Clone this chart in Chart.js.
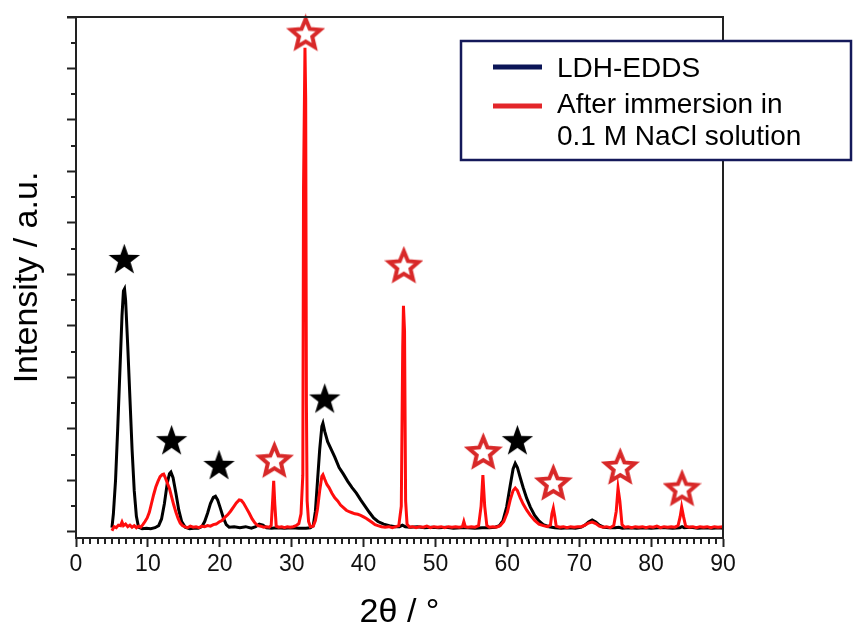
<!DOCTYPE html>
<html>
<head>
<meta charset="utf-8">
<title>XRD LDH-EDDS</title>
<script src="https://cdn.jsdelivr.net/npm/chart.js@4.4.1/dist/chart.umd.min.js"></script>
<style>
    html, body { margin: 0; padding: 0; background: #fff; }
    #wrap { width: 854px; height: 633px; }
</style>
</head>
<body>
<div id="wrap"><canvas id="xrd" width="854" height="633"></canvas></div>
<script>
// 2theta (deg) / intensity (a.u.) pairs
const ldhEdds = [
    [5.0, 0.08], [5.2, 0.35], [5.5, 1.0], [5.8, 2.0], [6.1, 3.1], [6.4, 4.2], [6.6, 4.68], [6.75, 4.72], [6.9, 4.5],
    [7.2, 3.6], [7.5, 2.6], [7.8, 1.6], [8.1, 0.8], [8.4, 0.3], [8.7, 0.09], [9.2, 0.06], [9.8, 0.07], [10.4, 0.06],
    [11.0, 0.08], [11.5, 0.12], [11.9, 0.25], [12.3, 0.55], [12.7, 0.95], [13.0, 1.13], [13.2, 1.16], [13.5, 1.05],
    [13.9, 0.75], [14.3, 0.42], [14.7, 0.2], [15.2, 0.09], [15.8, 0.06], [16.4, 0.07], [17.0, 0.07], [17.5, 0.1],
    [17.9, 0.2], [18.3, 0.36], [18.7, 0.55], [19.1, 0.67], [19.4, 0.69], [19.7, 0.62], [20.1, 0.45], [20.5, 0.27],
    [20.9, 0.14], [21.3, 0.09], [22.0, 0.1], [22.8, 0.08], [23.6, 0.1], [24.4, 0.07], [25.0, 0.1], [25.5, 0.15],
    [26.0, 0.13], [26.5, 0.08], [27.2, 0.07], [28.0, 0.08], [29.0, 0.07], [30.0, 0.08], [31.0, 0.07], [32.0, 0.07],
    [32.6, 0.08], [33.0, 0.12], [33.3, 0.4], [33.6, 1.0], [33.9, 1.6], [34.2, 2.05], [34.35, 2.11], [34.6, 1.95],
    [35.0, 1.75], [35.5, 1.6], [36.0, 1.45], [36.6, 1.25], [37.2, 1.12], [37.8, 0.98], [38.4, 0.86], [39.0, 0.75],
    [39.6, 0.62], [40.2, 0.5], [40.8, 0.38], [41.4, 0.27], [42.0, 0.2], [42.8, 0.15], [43.6, 0.12], [44.4, 0.1],
    [45.0, 0.1], [45.4, 0.13], [45.8, 0.1], [46.5, 0.09], [47.5, 0.1], [48.5, 0.08], [49.5, 0.09], [50.5, 0.08],
    [51.5, 0.09], [52.5, 0.07], [53.5, 0.08], [54.5, 0.08], [55.5, 0.07], [56.5, 0.08], [57.5, 0.08], [58.3, 0.09],
    [58.9, 0.12], [59.4, 0.22], [59.9, 0.48], [60.4, 0.9], [60.8, 1.22], [61.1, 1.33], [61.4, 1.25], [61.8, 1.05],
    [62.2, 0.86], [62.7, 0.65], [63.2, 0.48], [63.8, 0.32], [64.4, 0.21], [65.0, 0.14], [65.8, 0.1], [66.6, 0.08],
    [67.5, 0.07], [68.5, 0.08], [69.5, 0.07], [70.3, 0.09], [70.8, 0.13], [71.3, 0.19], [71.8, 0.23], [72.3, 0.19],
    [72.8, 0.13], [73.4, 0.09], [74.2, 0.08], [75.0, 0.08], [75.5, 0.09], [76.0, 0.07], [77.0, 0.08], [78.0, 0.07],
    [79.0, 0.08], [80.0, 0.07], [81.0, 0.08], [82.0, 0.08], [83.0, 0.07], [84.0, 0.08], [84.3, 0.1], [84.6, 0.08],
    [85.5, 0.09], [86.5, 0.07], [87.5, 0.08], [88.5, 0.07], [89.5, 0.08], [90.0, 0.07]
];

const afterNaCl = [
    [5.0, 0.02], [5.3, 0.1], [5.6, 0.08], [5.9, 0.13], [6.2, 0.12], [6.4, 0.19], [6.6, 0.12], [6.9, 0.15], [7.2, 0.1],
    [7.5, 0.13], [7.8, 0.09], [8.1, 0.12], [8.4, 0.08], [8.7, 0.11], [9.0, 0.09], [9.3, 0.14], [9.6, 0.2], [9.9, 0.27],
    [10.2, 0.38], [10.5, 0.55], [10.8, 0.72], [11.1, 0.87], [11.4, 0.98], [11.7, 1.07], [12.0, 1.11], [12.2, 1.12],
    [12.4, 1.06], [12.7, 0.95], [13.0, 0.84], [13.3, 0.68], [13.6, 0.52], [13.9, 0.38], [14.2, 0.26], [14.5, 0.17],
    [14.8, 0.12], [15.1, 0.1], [15.5, 0.08], [15.9, 0.11], [16.3, 0.09], [16.7, 0.1], [17.1, 0.08], [17.5, 0.11],
    [17.9, 0.1], [18.3, 0.12], [18.7, 0.11], [19.1, 0.14], [19.5, 0.15], [19.9, 0.19], [20.3, 0.22], [20.7, 0.28],
    [21.1, 0.33], [21.5, 0.4], [21.9, 0.48], [22.3, 0.56], [22.7, 0.62], [23.0, 0.61], [23.3, 0.56], [23.7, 0.46],
    [24.1, 0.36], [24.5, 0.25], [24.9, 0.17], [25.3, 0.12], [25.7, 0.11], [26.1, 0.09], [26.5, 0.1], [26.9, 0.09],
    [27.15, 0.12], [27.35, 0.6], [27.5, 0.99], [27.65, 0.55], [27.85, 0.11], [28.2, 0.09], [28.6, 0.1], [29.0, 0.08],
    [29.4, 0.1], [29.8, 0.09], [30.2, 0.1], [30.6, 0.12], [31.0, 0.16], [31.3, 0.35], [31.55, 1.1], [31.65, 6.7],
    [31.85, 9.4], [31.95, 8.4], [32.05, 2.5], [32.15, 0.6], [32.35, 0.2], [32.6, 0.1], [33.0, 0.11], [33.3, 0.22],
    [33.6, 0.45], [33.9, 0.8], [34.2, 1.08], [34.35, 1.11], [34.6, 1.02], [34.9, 0.92], [35.2, 0.86], [35.6, 0.75],
    [36.0, 0.66], [36.4, 0.6], [36.8, 0.52], [37.2, 0.47], [37.6, 0.42], [38.0, 0.39], [38.4, 0.37], [38.8, 0.35],
    [39.2, 0.34], [39.6, 0.32], [40.0, 0.29], [40.4, 0.26], [40.8, 0.22], [41.2, 0.18], [41.6, 0.14], [42.0, 0.12],
    [42.5, 0.1], [43.0, 0.09], [43.5, 0.1], [44.0, 0.08], [44.5, 0.1], [44.9, 0.12], [45.25, 0.5], [45.45, 3.6],
    [45.55, 4.39], [45.7, 3.9], [45.85, 0.6], [46.05, 0.15], [46.4, 0.09], [46.8, 0.1], [47.3, 0.08], [47.8, 0.1],
    [48.3, 0.09], [48.8, 0.11], [49.3, 0.08], [49.8, 0.1], [50.3, 0.09], [50.8, 0.1], [51.3, 0.08], [51.8, 0.1],
    [52.3, 0.09], [52.8, 0.1], [53.3, 0.09], [53.75, 0.1], [53.95, 0.2], [54.15, 0.1], [54.5, 0.09], [55.0, 0.1],
    [55.5, 0.09], [56.0, 0.12], [56.35, 0.5], [56.6, 1.1], [56.85, 0.5], [57.15, 0.12], [57.5, 0.09], [58.0, 0.1],
    [58.5, 0.09], [59.0, 0.12], [59.5, 0.2], [60.0, 0.38], [60.4, 0.62], [60.8, 0.8], [61.1, 0.85], [61.4, 0.8],
    [61.8, 0.66], [62.2, 0.54], [62.7, 0.42], [63.2, 0.32], [63.8, 0.22], [64.4, 0.15], [65.0, 0.12], [65.6, 0.1],
    [66.0, 0.13], [66.2, 0.35], [66.4, 0.46], [66.6, 0.3], [66.8, 0.11], [67.3, 0.09], [67.8, 0.1], [68.3, 0.08],
    [68.8, 0.1], [69.3, 0.09], [69.8, 0.1], [70.3, 0.1], [70.8, 0.13], [71.3, 0.17], [71.8, 0.19], [72.3, 0.16],
    [72.8, 0.11], [73.3, 0.09], [73.8, 0.1], [74.3, 0.08], [74.8, 0.12], [75.15, 0.4], [75.4, 0.85], [75.65, 0.6],
    [75.95, 0.14], [76.3, 0.09], [76.8, 0.1], [77.3, 0.08], [77.8, 0.1], [78.3, 0.09], [78.8, 0.1], [79.3, 0.08],
    [79.8, 0.1], [80.3, 0.09], [80.8, 0.11], [81.3, 0.08], [81.8, 0.1], [82.3, 0.09], [82.8, 0.1], [83.3, 0.09],
    [83.75, 0.12], [84.05, 0.3], [84.25, 0.48], [84.5, 0.3], [84.8, 0.11], [85.3, 0.09], [85.8, 0.1], [86.3, 0.08],
    [86.8, 0.1], [87.3, 0.09], [87.8, 0.1], [88.3, 0.08], [88.8, 0.1], [89.3, 0.09], [90.0, 0.1]
];

// reflection markers: LDH (filled) and NaCl (open)
const ldhStarX = [6.72, 13.3, 19.9, 34.6, 61.4];
const ldhStarY = [5.31, 1.79, 1.31, 2.6, 1.79];
const naclStarX = [27.6, 31.95, 45.6, 56.65, 66.4, 75.7, 84.3];
const naclStarY = [1.4, 9.69, 5.18, 1.56, 0.96, 1.27, 0.85];

const xTickValues = [0, 10, 20, 30, 40, 50, 60, 70, 80, 90];
const yTickValues = [0, 1, 2, 3, 4, 5, 6, 7, 8, 9, 10];

const legendLabels = ['LDH-EDDS', ['After immersion in', '0.1 M NaCl solution']];

const FONT = '"Liberation Sans", Arial, sans-serif';
const AXIS = '#222';

function toPoints(pairs) {
    return pairs.map(p => ({x: p[0], y: p[1]}));
}

function zipPoints(xs, ys) {
    return xs.map((x, i) => ({x, y: ys[i]}));
}

function starCanvas(fill, stroke, R, ratio, lw) {
    const size = Math.ceil(R * 2 + lw + 4);
    const c = document.createElement('canvas');
    c.width = size;
    c.height = size;
    const g = c.getContext('2d');
    const cx = size / 2, cy = size / 2 + R * 0.1;
    g.beginPath();
    for (let i = 0; i < 10; i++) {
        const a = -Math.PI / 2 + i * Math.PI / 5;
        const rad = i % 2 ? R * ratio : R;
        g.lineTo(cx + rad * Math.cos(a), cy + rad * Math.sin(a));
    }
    g.closePath();
    g.fillStyle = fill;
    g.fill();
    if (stroke) {
        g.lineWidth = lw;
        g.strokeStyle = stroke;
        g.lineJoin = 'miter';
        g.stroke();
    }
    return c;
}

const solidStar = starCanvas('#000', null, 16.5, 0.4, 0);
const openStar = starCanvas('#fff', '#d82828', 15.5, 0.45, 4);

// frame, minor ticks, legend
const decorations = {
    id: 'decorations',
    afterDraw(chart) {
        const {ctx, chartArea: a, scales: {x, y}} = chart;
        ctx.save();
        ctx.strokeStyle = AXIS;
        ctx.lineWidth = 2;
        ctx.beginPath();
        ctx.moveTo(a.left - 9, a.top);
        ctx.lineTo(a.right, a.top);
        ctx.lineTo(a.right, a.bottom);
        ctx.stroke();

        ctx.beginPath();
        for (let v = 1; v < 90; v++) {
            if (v % 10 === 0) continue;
            const px = Math.round(x.getPixelForValue(v));
            ctx.moveTo(px, a.bottom);
            ctx.lineTo(px, a.bottom + 6);
        }
        for (let v = 0.5; v < 10; v += 1) {
            const py = Math.round(y.getPixelForValue(v));
            ctx.moveTo(a.left - 5, py);
            ctx.lineTo(a.left, py);
        }
        ctx.stroke();

        // legend box
        const bx = a.left + 385, by = a.top + 24, bw = 390, bh = 119;
        ctx.fillStyle = '#fff';
        ctx.fillRect(bx, by, bw, bh);
        ctx.strokeStyle = '#14195a';
        ctx.lineWidth = 2.5;
        ctx.strokeRect(bx, by, bw, bh);

        ctx.lineWidth = 5;
        ctx.strokeStyle = '#0b1557';
        ctx.beginPath();
        ctx.moveTo(bx + 32, by + 26);
        ctx.lineTo(bx + 81, by + 26);
        ctx.stroke();
        ctx.strokeStyle = '#e3262a';
        ctx.beginPath();
        ctx.moveTo(bx + 32, by + 65);
        ctx.lineTo(bx + 81, by + 65);
        ctx.stroke();

        ctx.fillStyle = '#000';
        ctx.font = '28px ' + FONT;
        ctx.textBaseline = 'alphabetic';
        ctx.fillText(legendLabels[0], bx + 96, by + 36);
        ctx.fillText(legendLabels[1][0], bx + 96, by + 72);
        ctx.fillText(legendLabels[1][1], bx + 96, by + 104);
        ctx.restore();
    }
};

new Chart(document.getElementById('xrd'), {
    type: 'line',
    data: {
        datasets: [
            {
                type: 'scatter',
                data: zipPoints(ldhStarX, ldhStarY),
                pointStyle: solidStar,
                pointRadius: 16,
                clip: false,
                order: 0
            },
            {
                type: 'scatter',
                data: zipPoints(naclStarX, naclStarY),
                pointStyle: openStar,
                pointRadius: 16,
                clip: false,
                order: 0
            },
            {
                label: 'After immersion in 0.1 M NaCl solution',
                data: toPoints(afterNaCl),
                borderColor: '#ff0d0d',
                borderWidth: 3,
                pointRadius: 0,
                tension: 0,
                order: 1
            },
            {
                label: 'LDH-EDDS',
                data: toPoints(ldhEdds),
                borderColor: '#000',
                borderWidth: 3,
                pointRadius: 0,
                tension: 0,
                order: 2
            }
        ]
    },
    options: {
        responsive: false,
        animation: false,
        events: [],
        layout: {padding: {left: 0, right: 131, top: 16, bottom: 0}},
        plugins: {legend: {display: false}, tooltip: {enabled: false}},
        scales: {
            x: {
                type: 'linear',
                min: 0,
                max: 90,
                afterBuildTicks: s => { s.ticks = xTickValues.map(v => ({value: v})); },
                afterFit: s => { s.height = 95; },
                ticks: {color: '#111', font: {family: FONT, size: 23}, padding: 4, maxRotation: 0},
                grid: {drawOnChartArea: false, tickLength: 9, tickWidth: 2, tickColor: AXIS},
                border: {color: AXIS, width: 2},
                title: {display: true, text: '2θ / °', color: '#000', font: {family: FONT, size: 34}, padding: {top: 0, bottom: 0}}
            },
            y: {
                type: 'linear',
                min: -0.12,
                max: 10,
                afterBuildTicks: s => { s.ticks = yTickValues.map(v => ({value: v})); },
                afterFit: s => { s.width = 76; },
                ticks: {display: false},
                grid: {drawOnChartArea: false, tickLength: 9, tickWidth: 2, tickColor: AXIS},
                border: {color: AXIS, width: 2},
                title: {display: true, text: 'Intensity / a.u.', color: '#000', font: {family: FONT, size: 34}, padding: {top: 7, bottom: 0}}
            }
        }
    },
    plugins: [decorations]
});
</script>
</body>
</html>
